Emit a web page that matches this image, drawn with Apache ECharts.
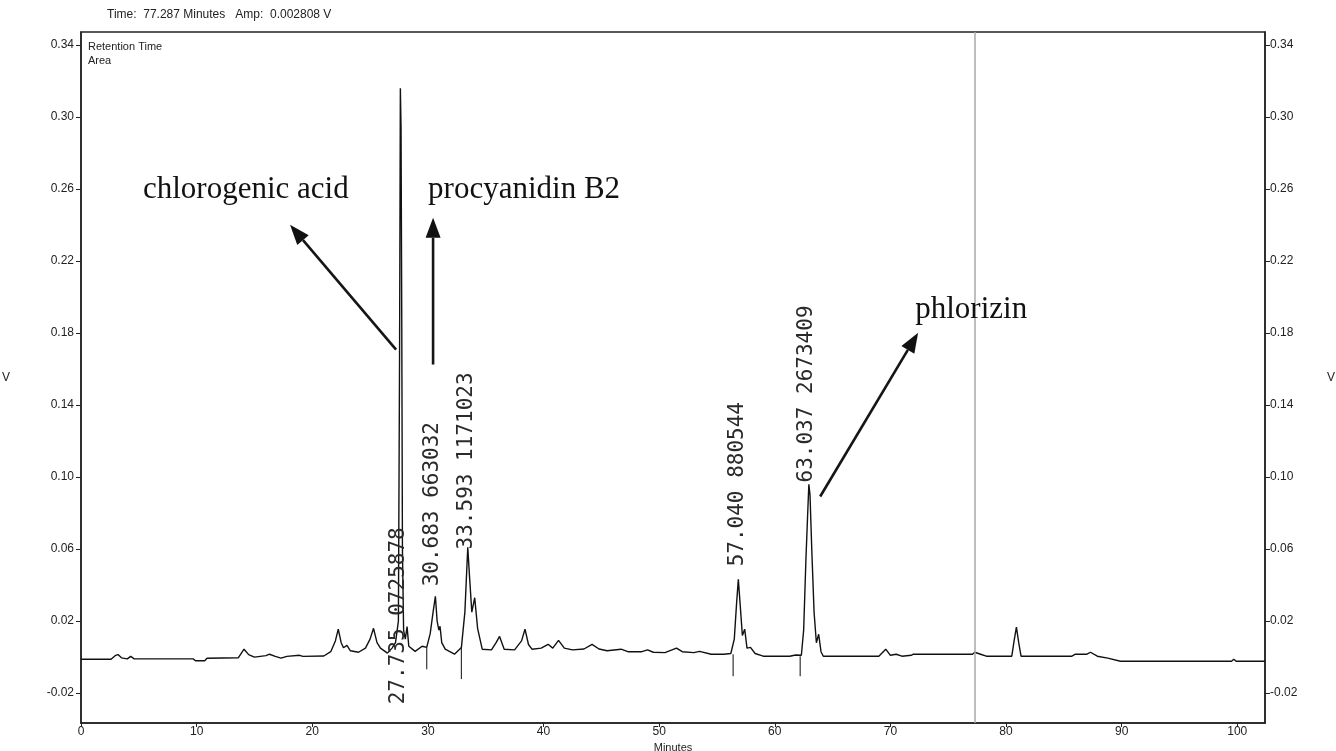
<!DOCTYPE html>
<html>
<head>
<meta charset="utf-8">
<title>HPLC chromatogram</title>
<script src="https://cdn.jsdelivr.net/npm/echarts@6/dist/echarts.min.js"></script>
<style>
  html, body { margin: 0; padding: 0; background: #fff; }
  #chart { width: 1336px; height: 751px; }
</style>
</head>
<body>
<div id="chart"></div>
<script>
// Detector trace: retention time (min) and amplitude (V)
const traceTime = [
  0, 2.6, 3.0, 3.2, 3.5, 4.0, 4.3, 4.6, 9.7, 9.9, 10.7, 10.9, 13.6, 14.1, 14.5, 15.0,
  16.0, 16.3, 16.8, 17.3, 17.8, 18.9, 19.2, 21.0, 21.6, 22.0, 22.25, 22.5, 22.7, 23.0,
  23.3, 24.0, 24.6, 25.0, 25.3, 25.6, 25.9, 26.5, 26.9, 27.2, 27.45, 27.55, 27.62, 27.68,
  27.74, 27.80, 27.9, 28.05, 28.2, 28.35, 28.9, 29.5, 29.9, 30.2, 30.45, 30.65, 30.8,
  30.95, 31.05, 31.2, 31.5, 32.3, 32.9, 33.2, 33.45, 33.6, 33.8, 34.05, 34.3, 34.7,
  35.5, 35.9, 36.2, 36.6, 37.5, 38.1, 38.4, 38.7, 39.0, 39.8, 40.4, 40.8, 41.3, 41.8,
  42.5, 43.5, 44.2, 44.8, 45.5, 46.7, 47.3, 48.5, 49.0, 49.5, 50.5, 51.5, 52.0, 53.0,
  53.5, 54.5, 55.6, 56.2, 56.5, 56.7, 56.85, 57.0, 57.2, 57.4, 57.6, 57.9, 58.3, 59.0,
  61.3, 61.8, 62.3, 62.5, 62.7, 62.85, 62.95, 63.05, 63.2, 63.4, 63.6, 63.8, 64.0, 64.2,
  69.0, 69.6, 70.0, 70.5, 71.0, 71.8, 72.0, 77.1, 77.3, 77.8, 78.3, 80.5, 80.7, 80.9,
  81.1, 81.3, 85.7, 86.0, 87.0, 87.3, 87.9, 88.8, 89.9, 99.5, 99.7, 99.9, 102.4
];
const traceAmp = [
  -0.0012, -0.0012, 0.0010, 0.0014, -0.0004, -0.0010, 0.0004, -0.0010, -0.0010, -0.0020, -0.0020, -0.0006, -0.0004, 0.0044, 0.0014, 0.0000,
  0.0008, 0.0016, 0.0004, -0.0006, 0.0004, 0.0010, 0.0004, 0.0006, 0.0030, 0.0090, 0.0155, 0.0080, 0.0052, 0.0065,
  0.0035, 0.0027, 0.0050, 0.0100, 0.0160, 0.0080, 0.0050, 0.0022, 0.0050, 0.0080, 0.0200, 0.1650, 0.3160, 0.2940,
  0.1900, 0.0600, 0.0150, 0.0100, 0.0170, 0.0060, 0.0032, 0.0060, 0.0054, 0.0130, 0.0250, 0.0338, 0.0200,
  0.0150, 0.0171, 0.0080, 0.0044, 0.0016, 0.0054, 0.0250, 0.0610, 0.0450, 0.0250, 0.0330, 0.0160, 0.0044,
  0.0040, 0.0080, 0.0115, 0.0044, 0.0040, 0.0090, 0.0155, 0.0070, 0.0044, 0.0050, 0.0071, 0.0050, 0.0093, 0.0050,
  0.0040, 0.0045, 0.0071, 0.0045, 0.0035, 0.0044, 0.0030, 0.0030, 0.0040, 0.0027, 0.0025, 0.0050, 0.0030, 0.0025,
  0.0032, 0.0016, 0.0016, 0.0020, 0.0100, 0.0300, 0.0432, 0.0300, 0.0120, 0.0155, 0.0050, 0.0054, 0.0020, 0.0005,
  0.0005, 0.0012, 0.0010, 0.0150, 0.0550, 0.0800, 0.0960, 0.0900, 0.0600, 0.0250, 0.0080, 0.0127, 0.0030, 0.0005,
  0.0005, 0.0044, 0.0010, 0.0016, 0.0005, 0.0010, 0.0016, 0.0016, 0.0027, 0.0016, 0.0005, 0.0005, 0.0090, 0.0166,
  0.0080, 0.0005, 0.0005, 0.0016, 0.0016, 0.0027, 0.0005, -0.0006, -0.0023, -0.0023, -0.0012, -0.0023, -0.0023
];

// Integrated peaks: retention time, area and where the label starts (V)
const peakTimes = [27.735, 30.683, 33.593, 57.040, 63.037];
const peakAreas = ['0725878', '663032', '1171023', '880544', '2673409'];
const peakLabelBase = [-0.0262, 0.0393, 0.0598, 0.0504, 0.0970];

// Integration event marks: start time, top and bottom of each drop tick
const eventTimes = [29.9, 32.9, 56.4, 62.2];
const eventTop = [0.0054, 0.0054, 0.0016, 0.0005];
const eventBottom = [-0.0067, -0.0122, -0.0106, -0.0106];

// Compound names and their arrows (tail -> head, in minutes / V)
const compoundNames = ['chlorogenic acid', 'procyanidin B2', 'phlorizin'];
const nameTime = [5.36, 30.02, 72.15];
const nameAmp = [0.2596, 0.2596, 0.1930];
const arrowTailTime = [27.25, 30.45, 63.93];
const arrowTailAmp = [0.1708, 0.1625, 0.0892];
const arrowHeadTime = [18.08, 30.45, 72.40];
const arrowHeadAmp = [0.2401, 0.2440, 0.1802];

// Cursor readout
const cursorTime = 77.287;
const cursorAmp = 0.002808;

// Axis ticks
const yTickValues = [-0.02, 0.02, 0.06, 0.10, 0.14, 0.18, 0.22, 0.26, 0.30, 0.34];
const xMin = 0, xMax = 102.4, xStep = 10;
const yMin = -0.0366, yMax = 0.3472;

const traceData = traceTime.map((t, i) => [t, traceAmp[i]]);
const eventData = eventTimes.map((t, i) => [t, eventTop[i], t, eventBottom[i]]);
const arrowData = arrowTailTime.map((t, i) => [t, arrowTailAmp[i], arrowHeadTime[i], arrowHeadAmp[i]]);
const peakLabelData = peakTimes.map((t, i) => [t, peakLabelBase[i]]);
const nameData = nameTime.map((t, i) => [t, nameAmp[i]]);

const axisFont = { fontFamily: 'Liberation Sans, Arial, sans-serif', fontSize: 12, color: '#222' };
const frameLine = { lineStyle: { color: '#222', width: 1.5 } };

function yAxisFor(position, nameGap, labelMargin) {
  return {
    type: 'value', position: position, min: yMin, max: yMax,
    name: 'V', nameLocation: 'middle', nameRotate: 0, nameGap: nameGap,
    nameTextStyle: axisFont,
    axisLine: Object.assign({ show: true, onZero: false }, frameLine),
    axisTick: { show: true, inside: false, length: 5, customValues: yTickValues, lineStyle: { color: '#222' } },
    axisLabel: Object.assign({ customValues: yTickValues, margin: labelMargin,
      formatter: v => v.toFixed(2) }, axisFont),
    splitLine: { show: false }
  };
}

const chart = echarts.init(document.getElementById('chart'), null, { renderer: 'canvas' });

chart.setOption({
  animation: false,
  backgroundColor: '#fff',
  grid: { left: 81, right: 71, top: 32, bottom: 28, containLabel: false, outerBoundsMode: 'none',
    show: true, borderColor: '#222', borderWidth: 1.5, backgroundColor: '#fff' },
  graphic: [
    { type: 'text', left: 107, top: 9,
      style: { text: 'Time:  ' + cursorTime.toFixed(3) + ' Minutes   Amp:  ' + cursorAmp.toFixed(6) + ' V',
        font: '12px "Liberation Sans", Arial, sans-serif', fill: '#222' } },
    { type: 'text', left: 88, top: 40,
      style: { text: 'Retention Time\nArea', lineHeight: 14,
        font: '11px "Liberation Sans", Arial, sans-serif', fill: '#222' } }
  ],
  xAxis: {
    type: 'value', min: xMin, max: xMax, interval: xStep,
    name: 'Minutes', nameLocation: 'middle', nameGap: 15,
    nameTextStyle: { fontFamily: 'Liberation Sans, Arial, sans-serif', fontSize: 11, color: '#222' },
    axisLine: Object.assign({ show: true, onZero: false }, frameLine),
    axisTick: { show: true, inside: false, length: 4, lineStyle: { color: '#222' } },
    axisLabel: Object.assign({ margin: 3, showMaxLabel: false }, axisFont),
    splitLine: { show: false }
  },
  yAxis: [yAxisFor('left', 71, 7), yAxisFor('right', 62, 5)],
  series: [
    {
      name: 'trace', type: 'line', data: traceData, showSymbol: false, silent: true,
      lineStyle: { color: '#111', width: 1.4 },
      markLine: {
        silent: true, symbol: 'none', label: { show: false },
        lineStyle: { color: '#a8a8a8', type: 'solid', width: 1.5 },
        data: [{ xAxis: cursorTime }]
      },
      z: 3
    },
    {
      name: 'events', type: 'custom', data: eventData, silent: true,
      encode: { x: [0, 2], y: [1, 3] },
      renderItem: function (params, api) {
        const a = api.coord([api.value(0), api.value(1)]);
        const b = api.coord([api.value(2), api.value(3)]);
        return { type: 'line', shape: { x1: a[0], y1: a[1], x2: b[0], y2: b[1] },
          style: { stroke: '#333', lineWidth: 1.2 } };
      },
      z: 2
    },
    {
      name: 'peakLabels', type: 'custom', data: peakLabelData, silent: true,
      encode: { x: 0, y: 1 },
      renderItem: function (params, api) {
        const i = params.dataIndex;
        const p = api.coord([api.value(0), api.value(1)]);
        const txt = peakTimes[i].toFixed(3) + ' ' + peakAreas[i];
        return { type: 'text', x: p[0] - 3, y: p[1], rotation: Math.PI / 2,
          style: { text: txt, font: '21px "DejaVu Sans Mono", monospace', fill: '#2a2a2a',
            align: 'left', verticalAlign: 'middle', textAlign: 'left', textVerticalAlign: 'middle' } };
      },
      z: 4
    },
    {
      name: 'compounds', type: 'custom', data: nameData, silent: true,
      encode: { x: 0, y: 1 },
      renderItem: function (params, api) {
        const p = api.coord([api.value(0), api.value(1)]);
        return { type: 'text', x: p[0], y: p[1],
          style: { text: compoundNames[params.dataIndex], font: '31px "Liberation Serif", "Times New Roman", serif',
            fill: '#111', align: 'left', verticalAlign: 'middle', textAlign: 'left', textVerticalAlign: 'middle' } };
      },
      z: 5
    },
    {
      name: 'arrows', type: 'custom', data: arrowData, silent: true,
      encode: { x: [0, 2], y: [1, 3] },
      renderItem: function (params, api) {
        const a = api.coord([api.value(0), api.value(1)]);
        const b = api.coord([api.value(2), api.value(3)]);
        const dx = b[0] - a[0], dy = b[1] - a[1];
        const len = Math.sqrt(dx * dx + dy * dy);
        const ux = dx / len, uy = dy / len;
        const headLen = 20, halfW = 7.5;
        const bx = b[0] - ux * headLen, by = b[1] - uy * headLen;
        return {
          type: 'group',
          children: [
            { type: 'line', shape: { x1: a[0], y1: a[1], x2: bx, y2: by },
              style: { stroke: '#151515', lineWidth: 2.6 } },
            { type: 'polygon',
              shape: { points: [[b[0], b[1]], [bx - uy * halfW, by + ux * halfW], [bx + uy * halfW, by - ux * halfW]] },
              style: { fill: '#111' } }
          ]
        };
      },
      z: 5
    }
  ]
});
</script>
</body>
</html>
